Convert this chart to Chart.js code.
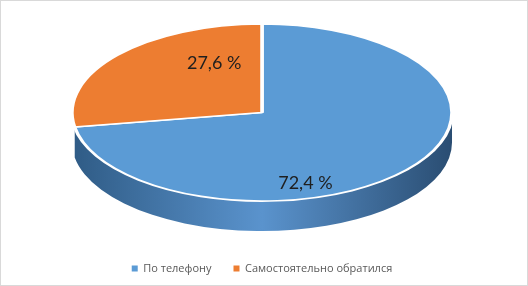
<!DOCTYPE html>
<html>
<head>
<meta charset="utf-8">
<script src="https://cdn.jsdelivr.net/npm/chart.js@4"></script>
<style>
  html, body { margin: 0; padding: 0; background: #fff; }
  #wrap { width: 528px; height: 286px; box-sizing: border-box; border: 1px solid #d9d9d9; }
  canvas { display: block; }
</style>
</head>
<body>
<div id="wrap"><canvas id="chart" width="526" height="284"></canvas></div>
<script>
// data
const categories = ['По телефону', 'Самостоятельно обратился'];
const shares = [72.4, 27.6];

// style
const topColors = ['#5b9bd5', '#ed7d31'];
const sideColors = [
  ['#2f5b85', '#5a93cd', '#2a4d72'],
  ['#9c4f1c', '#e07a32', '#9c4f1c']
];
const TILT = 0.466;   // ry / rx of the top face
const DEPTH = 30;     // px height of the side
const WIDTH_FRAC = 0.364;
const SIDE_END = Math.PI - 0.17; // perspective hides the far left of the side
const labelPos = [[0.3, 1.23], [0.33, 0.86]];

function geom(chart) {
  const arc = chart.getDatasetMeta(0).data[0];
  const area = chart.chartArea;
  const rx = area.width * WIDTH_FRAC;
  const ry = rx * TILT;
  return { x: arc.x, y: arc.y, r: arc.outerRadius, cx: arc.x, cy: area.top + ry, rx, ry };
}

// squash the pie into an ellipse and give it a side
const pie3d = {
  id: 'pie3d',
  beforeDatasetsDraw(chart) {
    const ctx = chart.ctx;
    const g = geom(chart);
    const sx = g.rx / g.r, sy = g.ry / g.r;
    ctx.save();
    ctx.translate(g.cx, g.cy);
    ctx.scale(sx, sy);
    ctx.translate(-g.x, -g.y);

    const d = DEPTH / sy;
    chart.getDatasetMeta(0).data.forEach((el, i) => {
      const grad = ctx.createLinearGradient(g.x - g.r, 0, g.x + g.r, 0);
      grad.addColorStop(0, sideColors[i][0]);
      grad.addColorStop(0.5, sideColors[i][1]);
      grad.addColorStop(1, sideColors[i][2]);
      for (let k = -1; k <= 1; k++) {
        const lo = Math.max(el.startAngle, 2 * Math.PI * k);
        const hi = Math.min(el.endAngle, 2 * Math.PI * k + SIDE_END);
        if (hi <= lo) continue;
        ctx.beginPath();
        ctx.arc(g.x, g.y, g.r, lo, hi);
        ctx.arc(g.x, g.y + d, g.r, hi, lo, true);
        ctx.closePath();
        ctx.fillStyle = grad;
        ctx.fill();
      }
    });
  },
  afterDatasetsDraw(chart) {
    const ctx = chart.ctx;
    ctx.restore();
    const g = geom(chart);
    ctx.save();
    ctx.font = '18px Lato, "Open Sans", sans-serif';
    ctx.fillStyle = '#1f1f1f';
    ctx.textAlign = 'center';
    ctx.textBaseline = 'middle';
    chart.getDatasetMeta(0).data.forEach((el, i) => {
      const mid = (el.startAngle + el.endAngle) / 2;
      const txt = shares[i].toFixed(1).replace('.', ',') + ' %';
      ctx.fillText(txt,
        g.cx + g.rx * labelPos[i][0] * Math.cos(mid),
        g.cy + g.ry * labelPos[i][1] * Math.sin(mid));
    });
    ctx.restore();
  }
};

new Chart(document.getElementById('chart'), {
  type: 'pie',
  data: {
    labels: categories,
    datasets: [{
      data: shares,
      backgroundColor: topColors,
      borderColor: '#ffffff',
      borderWidth: 2
    }]
  },
  options: {
    responsive: false,
    animation: false,
    devicePixelRatio: 1,
    events: [],
    layout: { padding: { top: 23, bottom: 1, left: 0, right: 4 } },
    plugins: {
      tooltip: { enabled: false },
      legend: {
        position: 'bottom',
        labels: {
          boxWidth: 6,
          boxHeight: 6,
          padding: 22,
          color: '#595959',
          font: { family: '"Open Sans", sans-serif', size: 11 },
          generateLabels: () => categories.map((c, i) => ({
            text: c,
            fillStyle: topColors[i],
            strokeStyle: topColors[i],
            lineWidth: 0,
            fontColor: '#595959',
            index: i
          }))
        }
      }
    }
  },
  plugins: [pie3d]
});
</script>
</body>
</html>
